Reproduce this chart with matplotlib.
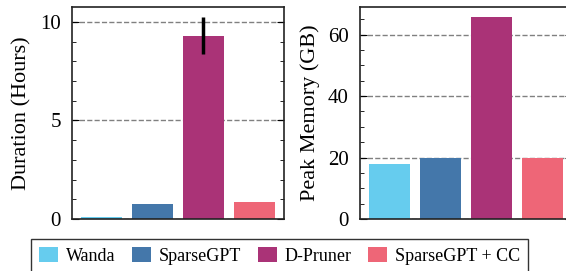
import matplotlib.pyplot as plt
from matplotlib.ticker import MultipleLocator
from matplotlib.patches import Patch

plt.rcParams['font.family'] = ['Liberation Serif', 'DejaVu Serif']
plt.rcParams['font.size'] = 15

methods = ['Wanda', 'SparseGPT', 'D-Pruner', 'SparseGPT + CC']
colors = ['#66CCEE', '#4477AA', '#AA3377', '#EE6677']
duration = [0.1, 0.78, 9.3, 0.85]
duration_err = [0, 0, 0.93, 0]
memory = [18.0, 20.0, 65.6, 20.0]

fig = plt.figure(figsize=(5.66, 2.71), dpi=100)
W, H = 566, 271
ax1 = fig.add_axes([72 / W, 1 - 219 / H, 212 / W, 212 / H])
ax2 = fig.add_axes([360 / W, 1 - 219 / H, 212 / W, 212 / H])

x = range(len(methods))
ax1.bar(x, duration, width=0.8, color=colors, zorder=2)
ax1.errorbar(2, duration[2], yerr=duration_err[2], color='black', lw=2.5, capsize=0, zorder=3)
ax2.bar(x, memory, width=0.8, color=colors, zorder=2)

ax1.set_ylim(0, 10.75)
ax1.yaxis.set_major_locator(MultipleLocator(5))
ax1.yaxis.set_minor_locator(MultipleLocator(1))
ax1.set_ylabel('Duration (Hours)', fontsize=16, labelpad=6)

ax2.set_ylim(0, 69)
ax2.yaxis.set_major_locator(MultipleLocator(20))
ax2.yaxis.set_minor_locator(MultipleLocator(5))
ax2.set_ylabel('Peak Memory (GB)', fontsize=16, labelpad=6)

for ax in (ax1, ax2):
    ax.set_xlim(-0.58, 3.58)
    ax.set_xticks([])
    ax.grid(axis='y', which='major', linestyle='--', color='gray', lw=1, zorder=1)
    ax.tick_params(axis='y', which='both', direction='in', left=True, right=True, pad=8)
    ax.tick_params(axis='y', which='major', length=5)
    ax.tick_params(axis='y', which='minor', length=3)
    for s in ax.spines.values():
        s.set_linewidth(1.2)
        s.set_color('#222222')

handles = [Patch(facecolor=c, label=m) for c, m in zip(colors, methods)]
leg = fig.legend(handles=handles, loc='upper left', bbox_to_anchor=(31 / W, 1 - 239 / H),
                 ncol=4, frameon=True, fancybox=False, edgecolor='black',
                 handlelength=1.05, handleheight=0.9, columnspacing=0.9, handletextpad=0.45,
                 borderpad=0.45, borderaxespad=0, fontsize=13)
leg.get_frame().set_linewidth(1.0)

fig.savefig('out.png', dpi=100)
